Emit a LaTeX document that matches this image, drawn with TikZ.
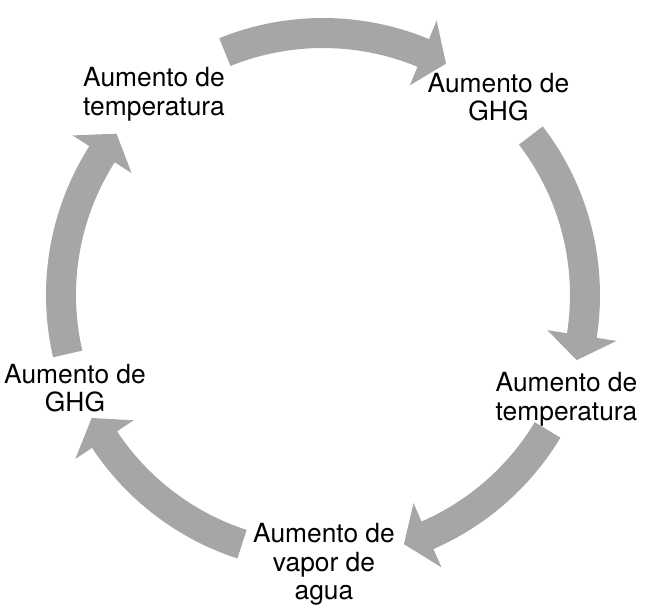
\documentclass[tikz,border=0pt]{standalone}
\usepackage{fontspec}
\setmainfont{TeX Gyre Heros}
\definecolor{arrowgray}{HTML}{A6A6A6}
\tikzset{
  stage/.style={align=center, inner sep=0pt, font=\fontsize{15}{16}\selectfont},
  cyclearrow/.style={fill=arrowgray}
}

\begin{document}
\begin{tikzpicture}[x=0.02cm, y=0.02cm]
\useasboundingbox (-323,-318) rectangle (334,295);

\node[stage] (temp1) at (-169,200.7) {Aumento de\\temperatura};
\node[stage] (ghg1) at (175.5,197.5) {Aumento de\\GHG};
\node[stage] (temp2) at (243.5,-104.3) {Aumento de\\temperatura};
\node[stage] (vapor) at (1,-269.3) {Aumento de\\vapor de\\agua};
\node[stage] (ghg2) at (-248,-93.5) {Aumento de\\GHG};

% tail angle / tip angle of each arrow
\foreach \from/\to in {112/62, 37.5/-14.4, -31/-72, -108/-152, 193/142}
  \fill[cyclearrow] (\from:277) arc[start angle=\from, end angle=\to+5.5, radius=277]
    -- (\to+5.5:297) -- (\to:262) -- (\to+5.5:227) -- (\to+5.5:247)
    arc[start angle=\to+5.5, end angle=\from, radius=247] -- cycle;
\end{tikzpicture}
\end{document}
